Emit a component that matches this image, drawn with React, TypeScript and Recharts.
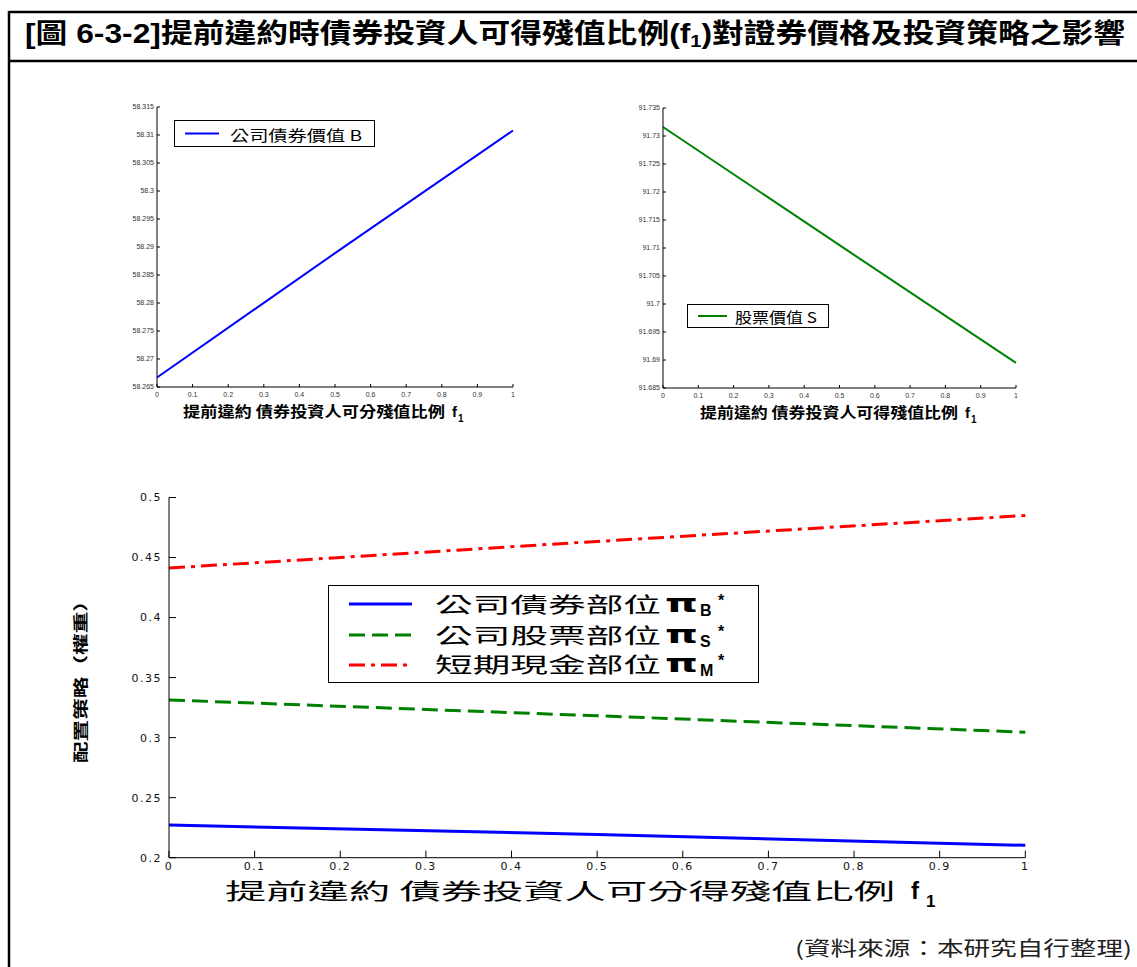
import React from "react";
import { Label, Legend, Line, LineChart, XAxis, YAxis } from "recharts";

// f1: share of residual value the bond investor recovers on early default
const fPoints = [0, 0.5, 1];
const fTicks = [0, 0.1, 0.2, 0.3, 0.4, 0.5, 0.6, 0.7, 0.8, 0.9, 1];

// top-left panel: corporate bond value B
const bondValueB = [58.2667, 58.2889, 58.3108];
const bondTicks = [58.265, 58.27, 58.275, 58.28, 58.285, 58.29, 58.295, 58.3, 58.305, 58.31, 58.315];

// top-right panel: stock value S
const stockValueS = [91.7316, 91.7105, 91.6895];
const stockTicks = [91.685, 91.69, 91.695, 91.7, 91.705, 91.71, 91.715, 91.72, 91.725, 91.73, 91.735];

// bottom panel: optimal weights
const weightBond = [0.2272, 0.2193, 0.2103];
const weightStock = [0.3314, 0.3182, 0.3045];
const weightCash = [0.4412, 0.4634, 0.485];
const weightTicks = [0.2, 0.25, 0.3, 0.35, 0.4, 0.45, 0.5];

const SANS = "'Liberation Sans', 'Noto Sans CJK TC', sans-serif";
const CJK = "'Noto Sans CJK TC', 'Liberation Sans', sans-serif";

const bondRows = fPoints.map((f, i) => ({ f, B: bondValueB[i] }));
const stockRows = fPoints.map((f, i) => ({ f, S: stockValueS[i] }));
const weightRows = fPoints.map((f, i) => ({
  f,
  piB: weightBond[i],
  piS: weightStock[i],
  piM: weightCash[i],
}));

const weightStyle: Record<string, { dash?: string; sub: string }> = {
  piB: { sub: "B" },
  piS: { dash: "16 7", sub: "S" },
  piM: { dash: "16 6 4 6", sub: "M" },
};

function SmallXLabel(props: any) {
  const { viewBox, text, start, width } = props;
  const x0 = viewBox.x + start;
  const base = viewBox.y + 30;
  return (
    <g fontWeight="bold" fill="#000">
      <text x={x0} y={base} fontSize={15} fontFamily={CJK} textLength={width} lengthAdjust="spacingAndGlyphs">
        {text}
      </text>
      <text x={x0 + width + 7} y={base} fontSize={15} fontFamily={SANS}>
        f
      </text>
      <text x={x0 + width + 13} y={base + 5} fontSize={10} fontFamily={SANS}>
        1
      </text>
    </g>
  );
}

function SmallLegend(props: any) {
  const { payload, w, h, lineEnd, textX, textW, base } = props;
  const item = payload && payload[0];
  if (!item) return null;
  return (
    <div style={{ width: w, height: h, border: "1px solid #000", background: "#fff", boxSizing: "border-box" }}>
      <svg width={w - 2} height={h - 2} style={{ display: "block" }}>
        <line x1={10} x2={lineEnd} y1={(h - 2) / 2} y2={(h - 2) / 2} stroke={item.color} strokeWidth={2} />
        <text x={textX} y={base} fontSize={15} fontFamily={CJK} fill="#000" textLength={textW} lengthAdjust="spacingAndGlyphs">
          {item.value}
        </text>
      </svg>
    </div>
  );
}

function WeightLegend(props: any) {
  const { payload } = props;
  const lines = [18, 49, 79];
  const bases = [26, 57, 86];
  return (
    <div style={{ width: 431, height: 98, border: "1.5px solid #000", background: "#fff", boxSizing: "border-box" }}>
      <svg width={428} height={95} style={{ display: "block", overflow: "visible" }}>
        {(payload || []).map((item: any, i: number) => {
          const st = weightStyle[item.dataKey] || { sub: "" };
          return (
            <g key={item.dataKey}>
              <line x1={20} x2={83} y1={lines[i]} y2={lines[i]} stroke={item.color} strokeWidth={3} strokeDasharray={st.dash} />
              <text x={106} y={bases[i]} fontSize={21} fontFamily={CJK} fill="#000" textLength={226} lengthAdjust="spacingAndGlyphs">
                {item.value}
              </text>
              <text x={336} y={bases[i]} fontSize={24} fontWeight="bold" fontFamily="'DejaVu Sans'" fill="#000" textLength={33} lengthAdjust="spacingAndGlyphs">
                π
              </text>
              <text x={371} y={bases[i] + 4} fontSize={16} fontWeight="bold" fontFamily={SANS} fill="#000">
                {st.sub}
              </text>
              <text x={389} y={bases[i] - 6} fontSize={16} fontWeight="bold" fontFamily={SANS} fill="#000">
                *
              </text>
            </g>
          );
        })}
      </svg>
    </div>
  );
}

const smallTick = { fontSize: 7, fill: "#333", fontFamily: SANS };

function SmallPanel(props: any) {
  const { left, margin, rows, dataKey, name, color, domain, ticks, xText, xStart, xWidth, legend } = props;
  return (
    <div style={{ position: "absolute", left, top: 95 }}>
      <LineChart width={440} height={335} data={rows} margin={margin}>
        <XAxis
          dataKey="f"
          type="number"
          domain={[0, 1]}
          ticks={fTicks}
          interval={0}
          height={40}
          tickSize={-3}
          tickMargin={8}
          stroke="#000"
          tick={smallTick}
        >
          <Label content={(p: any) => <SmallXLabel {...p} text={xText} start={xStart} width={xWidth} />} />
        </XAxis>
        <XAxis xAxisId="top" orientation="top" type="number" domain={[0, 1]} ticks={fTicks} interval={0} height={0} tickSize={-3} tick={false} stroke="#000" />
        <YAxis type="number" domain={domain} ticks={ticks} interval={0} width={50} tickSize={-3} tickMargin={6} stroke="#000" tick={smallTick} allowDataOverflow />
        <YAxis yAxisId="right" orientation="right" type="number" domain={domain} ticks={ticks} interval={0} width={0} tickSize={-3} tick={false} stroke="#000" allowDataOverflow />
        <Legend
          layout="horizontal"
          verticalAlign="middle"
          align="center"
          wrapperStyle={{ left: legend.left, top: legend.top, width: legend.w, height: legend.h }}
          content={(p: any) => <SmallLegend {...p} {...legend} />}
        />
        <Line type="linear" dataKey={dataKey} name={name} stroke={color} strokeWidth={2} dot={false} isAnimationActive={false} />
      </LineChart>
    </div>
  );
}

const weightTick = { fontSize: 11, fill: "#111", fontFamily: "'DejaVu Sans'", letterSpacing: 1.5 };

function WeightPanel() {
  return (
    <div style={{ position: "absolute", left: 60, top: 480 }}>
      <LineChart width={1000} height={440} data={weightRows} margin={{ top: 17.5, right: 34.7, bottom: 7.3, left: 9 }}>
        <XAxis
          dataKey="f"
          type="number"
          domain={[0, 1]}
          ticks={fTicks}
          interval={0}
          height={55}
          tickSize={-7}
          tickMargin={11}
          stroke="#000"
          tick={weightTick}
        >
          <Label
            content={(p: any) => {
              const vb = p.viewBox;
              const x0 = vb.x + 56;
              const base = vb.y + 41;
              return (
                <g fill="#000">
                  <text x={x0} y={base} fontSize={22} fontFamily={CJK} textLength={670} lengthAdjust="spacingAndGlyphs">
                    提前違約 債券投資人可分得殘值比例
                  </text>
                  <text x={x0 + 686} y={base} fontSize={24} fontWeight="bold" fontFamily={SANS}>
                    f
                  </text>
                  <text x={x0 + 701} y={base + 8} fontSize={17} fontWeight="bold" fontFamily={SANS}>
                    1
                  </text>
                </g>
              );
            }}
          />
        </XAxis>
        <XAxis xAxisId="top" orientation="top" type="number" domain={[0, 1]} ticks={fTicks} interval={0} height={0} tickSize={-7} tick={false} stroke="#000" />
        <YAxis type="number" domain={[0.2, 0.5]} ticks={weightTicks} interval={0} width={100} tickSize={-7} tickMargin={14} stroke="#000" tick={weightTick}>
          <Label
            content={(p: any) => {
              const vb = p.viewBox;
              const cx = vb.x + 11;
              const cy = vb.y + vb.height / 2 - 1;
              return (
                <text
                  x={cx}
                  y={cy}
                  transform={`rotate(-90, ${cx}, ${cy})`}
                  textAnchor="middle"
                  dominantBaseline="central"
                  fontSize={15}
                  fontWeight="bold"
                  fontFamily={CJK}
                  fill="#000"
                  textLength={173}
                  lengthAdjust="spacingAndGlyphs"
                >
                  配置策略（權重）
                </text>
              );
            }}
          />
        </YAxis>
        <YAxis yAxisId="right" orientation="right" type="number" domain={[0.2, 0.5]} ticks={weightTicks} interval={0} width={0} tickSize={-7} tick={false} stroke="#000" />
        <Legend
          layout="horizontal"
          verticalAlign="middle"
          align="center"
          wrapperStyle={{ left: 268, top: 105, width: 431, height: 98 }}
          content={(p: any) => <WeightLegend {...p} />}
        />
        <Line type="linear" dataKey="piB" name="公司債券部位" stroke="#0000ff" strokeWidth={3} dot={false} isAnimationActive={false} />
        <Line type="linear" dataKey="piS" name="公司股票部位" stroke="#008000" strokeWidth={3} strokeDasharray="16 7" dot={false} isAnimationActive={false} />
        <Line type="linear" dataKey="piM" name="短期現金部位" stroke="#ff0000" strokeWidth={3} strokeDasharray="16 6 4 6" dot={false} isAnimationActive={false} />
      </LineChart>
    </div>
  );
}

export default function App() {
  return (
    <div style={{ position: "absolute", left: 0, top: 0, width: 1137, height: 967, overflow: "hidden", background: "#fff", fontFamily: SANS }}>
      <svg width={1137} height={967} style={{ position: "absolute", left: 0, top: 0 }}>
        <line x1={9} x2={1137} y1={12} y2={12} stroke="#000" strokeWidth={2.5} />
        <line x1={9} x2={1137} y1={61} y2={61} stroke="#000" strokeWidth={2.5} />
        <line x1={9} x2={9} y1={11} y2={967} stroke="#000" strokeWidth={2.5} />
        <text x={25} y={43} fontSize={27} fontWeight="bold" fontFamily={SANS} fill="#000" textLength={1100} lengthAdjust="spacingAndGlyphs">
          [圖 6-3-2]提前違約時債券投資人可得殘值比例(f<tspan fontSize={17} dy={4}>1</tspan>
          <tspan dy={-4}>)對證券價格及投資策略之影響</tspan>
        </text>
        <text x={795} y={956} fontSize={20} fontFamily={CJK} fill="#222" textLength={337} lengthAdjust="spacingAndGlyphs">
          (資料來源：本研究自行整理)
        </text>
      </svg>
      <SmallPanel
        left={100}
        margin={{ top: 12, right: 27, bottom: 3, left: 7 }}
        rows={bondRows}
        dataKey="B"
        name="公司債券價值 B"
        color="#0000ff"
        domain={[58.265, 58.315]}
        ticks={bondTicks}
        xText="提前違約 債券投資人可分殘值比例"
        xStart={26}
        xWidth={262}
        legend={{ left: 74, top: 25, w: 201, h: 27, lineEnd: 44, textX: 55, textW: 132, base: 20 }}
      />
      <SmallPanel
        left={606}
        margin={{ top: 13, right: 30, bottom: 2, left: 7 }}
        rows={stockRows}
        dataKey="S"
        name="股票價值 S"
        color="#008000"
        domain={[91.685, 91.735]}
        ticks={stockTicks}
        xText="提前違約 債券投資人可得殘值比例"
        xStart={37}
        xWidth={258}
        legend={{ left: 81, top: 209, w: 142, h: 24, lineEnd: 39, textX: 47, textW: 82, base: 18 }}
      />
      <WeightPanel />
    </div>
  );
}
